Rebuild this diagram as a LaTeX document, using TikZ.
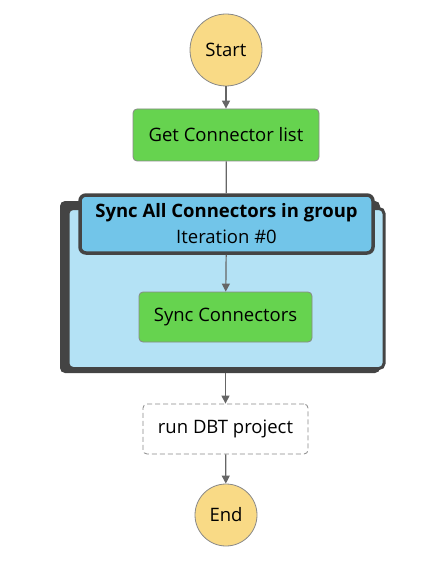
\documentclass[tikz,border=0pt]{standalone}
\usepackage{fontspec}
\setmainfont{Open Sans}
\usetikzlibrary{arrows.meta}
\definecolor{stateyel}{HTML}{F9DA86}
\definecolor{stategreen}{HTML}{66D34F}
\definecolor{mapdark}{HTML}{444444}
\definecolor{mapbody}{HTML}{B4E2F5}
\definecolor{maphead}{HTML}{72C5E9}
\definecolor{edgegray}{HTML}{666666}
\definecolor{bordergray}{HTML}{888888}
\tikzset{
  lbl/.style={font=\fontsize{18.5}{22}\selectfont},
  terminal/.style={circle, fill=stateyel, draw=bordergray, line width=0.8pt, inner sep=0pt, lbl},
  taskbox/.style={rectangle, rounded corners=4pt, fill=stategreen, draw=bordergray, line width=0.8pt, inner sep=0pt, lbl},
  passbox/.style={rectangle, rounded corners=4pt, fill=white, draw=bordergray, dash pattern=on 5pt off 3pt, line width=0.8pt, inner sep=0pt, lbl},
  flow/.style={draw=edgegray, line width=1.2pt, -{Triangle[width=8pt,length=8pt]}},
  plainflow/.style={draw=edgegray, line width=1.2pt},
}
\begin{document}
\begin{tikzpicture}[x=1pt,y=-1pt]
\useasboundingbox (0,0) rectangle (422,572);
% map state stack
\node[rectangle, rounded corners=5pt, fill=mapdark, inner sep=0pt, minimum width=320pt, minimum height=172pt] (mapback) at (220,287) {};
\node[rectangle, rounded corners=5pt, fill=mapbody, draw=mapdark, line width=3pt, inner sep=0pt, minimum width=316pt, minimum height=160pt] (mapbody) at (226,288.5) {};
\node[rectangle, rounded corners=6pt, fill=maphead, draw=mapdark, line width=3.5pt, inner sep=0pt, minimum width=293pt, minimum height=58pt, align=center, lbl] (header) at (226.5,224)
  {{\bfseries Sync All Connectors in group}\\[4pt]Iteration \#0};
% states
\node[terminal, minimum size=72pt] (start) at (226,50) {Start};
\node[taskbox, minimum width=186pt, minimum height=52pt] (get) at (226,135) {Get Connector list};
\node[taskbox, minimum width=173pt, minimum height=50pt] (sync) at (225.5,317) {Sync Connectors};
\node[passbox, minimum width=165pt, minimum height=50pt] (dbt) at (225.5,429) {run DBT project};
\node[terminal, minimum size=62pt] (end) at (226,515) {End};
% connectors
\draw[flow] (start) -- (get);
\draw[plainflow] (get) -- (header);
\draw[flow] (header) -- (sync);
\draw[flow] (mapback.south -| dbt.north) -- (dbt);
\draw[flow] (dbt) -- (end);
\end{tikzpicture}
\end{document}
